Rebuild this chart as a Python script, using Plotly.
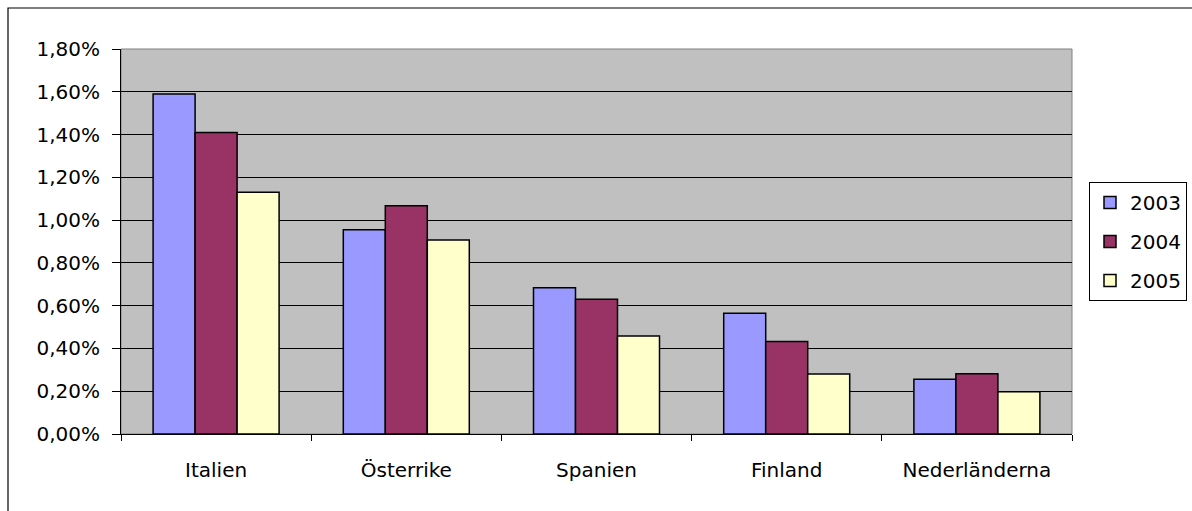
import plotly.graph_objects as go

# Country categories and yearly shares (as fractions)
countries = ["Italien", "Österrike", "Spanien", "Finland", "Nederländerna"]
years = ["2003", "2004", "2005"]
values_2003 = [0.0159, 0.00955, 0.00684, 0.00564, 0.00256]
values_2004 = [0.0141, 0.01067, 0.00630, 0.00432, 0.00282]
values_2005 = [0.0113, 0.00907, 0.00458, 0.00280, 0.00198]
series_values = [values_2003, values_2004, values_2005]
colors = ["#9999FF", "#993366", "#FFFFCC"]

W, H = 1192, 511
L, R, T, B = 121, 120, 49, 77
plot_w = W - L - R
plot_h = H - T - B

FONT = "DejaVu Sans"

fig = go.Figure()
for year, vals, col in zip(years, series_values, colors):
    fig.add_trace(go.Bar(
        x=countries, y=vals, name=year, legendgroup=year,
        marker=dict(color=col, line=dict(color="black", width=1.5)),
    ))


def px_x(p):
    return (p - L) / plot_w


def px_y(p):
    return (H - B - p) / plot_h


shapes = [
    # plot-area frame
    dict(type="rect", xref="paper", yref="paper", x0=0, x1=1, y0=0, y1=1,
         line=dict(color="#808080", width=1), layer="below"),
    # outer chart border
    dict(type="rect", xref="paper", yref="paper",
         x0=px_x(8), x1=px_x(W + 20), y0=px_y(H + 20), y1=px_y(8),
         line=dict(color="black", width=1.2), fillcolor="rgba(0,0,0,0)"),
]

fig.update_layout(
    width=W, height=H,
    margin=dict(l=L, r=R, t=T, b=B, autoexpand=False),
    paper_bgcolor="white",
    plot_bgcolor="#C0C0C0",
    separators=", ",
    barmode="group",
    bargap=0.3375,
    bargroupgap=0,
    font=dict(family=FONT, size=20, color="black"),
    showlegend=True,
    legend=dict(
        x=px_x(1089), y=px_y(182), xanchor="left", yanchor="top",
        bordercolor="black", borderwidth=1, bgcolor="white",
        font=dict(family=FONT, size=20), tracegroupgap=10,
        traceorder="grouped",
    ),
    shapes=shapes,
)

fig.update_yaxes(
    range=[0, 0.018], dtick=0.002, tickformat=".2%",
    showgrid=True, gridcolor="black", gridwidth=1,
    showline=True, linecolor="black", linewidth=1,
    ticks="outside", ticklen=8, tickcolor="black",
    ticklabelstandoff=8,
    zeroline=False, fixedrange=True,
)
fig.update_xaxes(
    showline=True, linecolor="black", linewidth=1,
    ticks="outside", ticklen=6, tickcolor="black", tickson="boundaries",
    ticklabelstandoff=18,
    showgrid=False, fixedrange=True,
)

fig.write_html("out.html")
